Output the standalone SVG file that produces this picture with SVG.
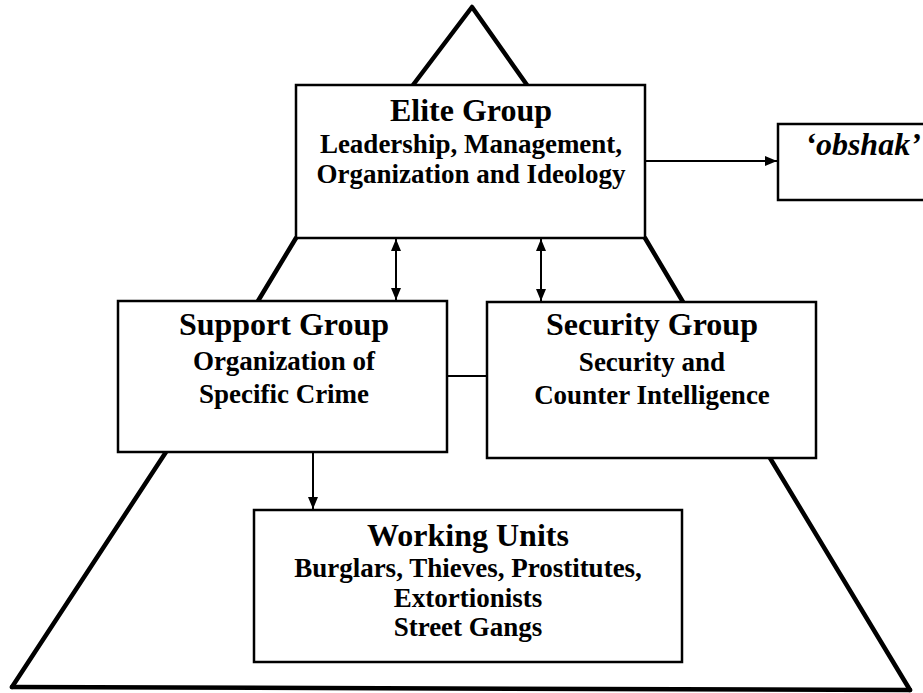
<svg xmlns="http://www.w3.org/2000/svg" width="923" height="693" viewBox="0 0 923 693">
<style>
.box{fill:#fff;stroke:#000;stroke-width:2.5}
.thick{fill:none;stroke:#000;stroke-width:4.5;stroke-linecap:round;stroke-linejoin:round}
.conn{fill:none;stroke:#000;stroke-width:2}
text{font-family:"Liberation Serif","Times New Roman",serif;font-weight:bold;text-anchor:middle;fill:#000}
.t{font-size:32px}
.s{font-size:27px}
.i{font-style:italic;font-size:32px}
</style>
<defs>
<marker id="ah" viewBox="0 0 12 10" refX="12" refY="5" markerWidth="12" markerHeight="10" markerUnits="userSpaceOnUse" orient="auto-start-reverse">
<path d="M0,0 L12,5 L0,10 Z" fill="#000"/>
</marker>
</defs>
<rect width="923" height="693" fill="#fff"/>
<g id="pyramid">
<polyline class="thick" points="413,85 472,7 527,85"/>
<line class="thick" x1="296" y1="238" x2="258" y2="301"/>
<line class="thick" x1="645" y1="238" x2="683" y2="302"/>
<line class="thick" x1="166" y1="452" x2="12" y2="687"/>
<line class="thick" x1="770" y1="458" x2="910" y2="690"/>
<line class="thick" x1="12" y1="687" x2="910" y2="690"/>
</g>
<g id="connectors">
<line class="conn" x1="396" y1="239" x2="396" y2="300" marker-start="url(#ah)" marker-end="url(#ah)"/>
<line class="conn" x1="541" y1="239" x2="541" y2="301" marker-start="url(#ah)" marker-end="url(#ah)"/>
<line class="conn" x1="645" y1="161" x2="777" y2="161" marker-end="url(#ah)"/>
<line class="conn" x1="447" y1="376" x2="487" y2="376"/>
<line class="conn" x1="313" y1="453" x2="313" y2="509" marker-end="url(#ah)"/>
</g>
<g id="elite">
<rect class="box" x="296" y="85" width="349" height="153"/>
<text class="t" x="471" y="121">Elite Group</text>
<text class="s" x="471" y="153">Leadership, Management,</text>
<text class="s" x="471" y="183">Organization and Ideology</text>
</g>
<g id="obshak">
<rect class="box" x="778" y="124" width="160" height="76"/>
<text class="i" x="863" y="155">‘obshak’</text>
</g>
<g id="support">
<rect class="box" x="118" y="301" width="329" height="151"/>
<text class="t" x="284" y="335">Support Group</text>
<text class="s" x="284" y="370">Organization of</text>
<text class="s" x="284" y="403">Specific Crime</text>
</g>
<g id="security">
<rect class="box" x="487" y="302" width="329" height="156"/>
<text class="t" x="652" y="335">Security Group</text>
<text class="s" x="652" y="371">Security and</text>
<text class="s" x="652" y="404">Counter Intelligence</text>
</g>
<g id="working">
<rect class="box" x="254" y="510" width="428" height="152"/>
<text class="t" x="468" y="546">Working Units</text>
<text class="s" x="468" y="577">Burglars, Thieves, Prostitutes,</text>
<text class="s" x="468" y="607">Extortionists</text>
<text class="s" x="468" y="636">Street Gangs</text>
</g>
</svg>
